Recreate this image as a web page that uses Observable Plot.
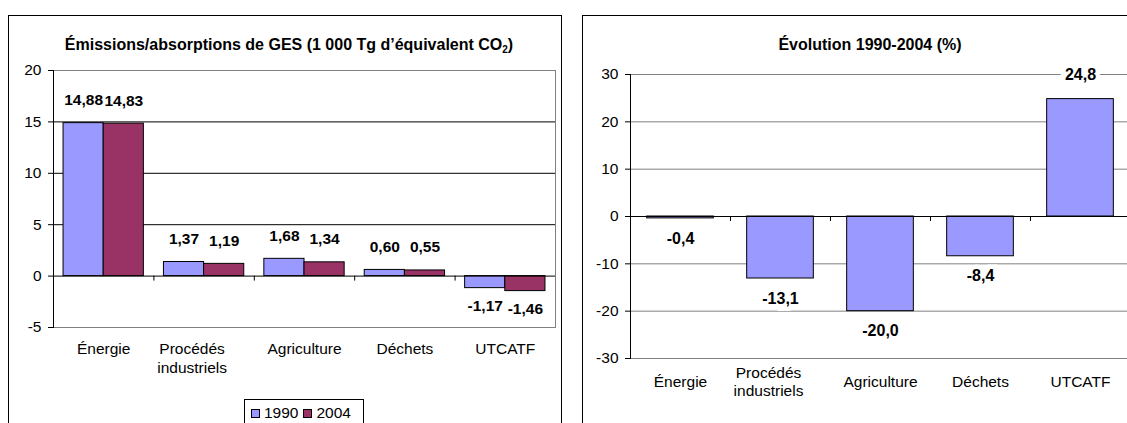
<!DOCTYPE html>
<html lang="fr">
<head>
<meta charset="utf-8">
<script src="https://cdn.jsdelivr.net/npm/d3@7"></script>
<script src="https://cdn.jsdelivr.net/npm/@observablehq/plot@0.6"></script>
<style>
  html, body { margin: 0; padding: 0; background: #fff; }
  body {
    width: 1127px; height: 423px; position: relative; overflow: hidden;
    font-family: "Liberation Sans", Arial, sans-serif; color: #000;
  }
  .panel { position: absolute; border: 1px solid #000; box-sizing: border-box; }
  .title {
    position: absolute; font-weight: bold; font-size: 16px; line-height: 20px;
    white-space: nowrap; transform: translateX(-50%);
  }
  .title sub { font-size: 10px; line-height: 0; vertical-align: -3px; }
  .chart { position: absolute; top: 0; width: 570px; height: 423px; }
  .chart svg { max-width: none !important; }
  .legend {
    position: absolute; left: 244px; top: 399px; width: 120px; height: 40px;
    border: 1px solid #000; box-sizing: border-box;
    display: flex; align-items: flex-start; padding: 4px 0 0 6px; gap: 5px;
    font-size: 15.5px; line-height: 18px;
  }
  .legend .item { display: flex; align-items: center; gap: 4px; }
  .legend .swatch { width: 9px; height: 9px; border: 1px solid #000; box-sizing: border-box; }
</style>
</head>
<body>
<div class="panel" style="left:8px; top:15px; width:554px; height:440px"></div>
<div class="panel" style="left:582px; top:15px; width:600px; height:440px"></div>
<div class="title" style="left:289px; top:35px">Émissions/absorptions de GES (1 000 Tg d’équivalent CO<sub>2</sub>)</div>
<div class="title" style="left:870px; top:35px">Évolution 1990-2004 (%)</div>
<div id="left" class="chart" style="left:0"></div>
<div id="right" class="chart" style="left:570px"></div>
<div id="legend" class="legend"></div>
<script>
// GHG emissions / removals by sector, thousands of Tg CO2 equivalent
const categories = ["Énergie", "Procédés industriels", "Agriculture", "Déchets", "UTCATF"];
const years = ["1990", "2004"];
const emissions1990 = [14.88, 1.37, 1.68, 0.60, -1.17];
const emissions2004 = [14.83, 1.19, 1.34, 0.55, -1.46];
// Change 1990-2004, percent
const evolution = [-0.4, -13.1, -20.0, -8.4, 24.8];
const emissionTicks = [-5, 0, 5, 10, 15, 20];
const evolutionTicks = [-30, -20, -10, 0, 10, 20, 30];
const seriesColors = ["#9999FF", "#993366"];

const FONT = '"Liberation Sans", Arial, sans-serif';
const HEIGHT = 423;
const frNum = (v, digits) => v.toFixed(digits).replace(".", ",");
const twoLines = (d) => d.replace(" ", "\n");
const isWrapped = (d) => d.includes(" ");

// Category names under the frame; wrapped names sit slightly left, as in the spreadsheet layout
function categoryLabels(lineAnchor, dy) {
  const base = {x: (d) => d, frameAnchor: "bottom", dy, lineAnchor, text: twoLines, fontSize: 15.5, lineHeight: 1.17};
  return [
    Plot.text(categories.filter((d) => !isWrapped(d)), base),
    Plot.text(categories.filter(isWrapped), {...base, dx: -12})
  ];
}

// ---------- left chart: grouped bars ----------
{
  const width = 570;
  const m = {top: 70, right: 15, bottom: 96, left: 53};
  const xOpts = {type: "band", domain: categories, paddingInner: 0.2, paddingOuter: 0.1, round: false};
  const xs = Plot.scale({x: {...xOpts, range: [m.left, width - m.right]}});
  const half = xs.bandwidth / 2;
  const rows = years.map((year, k) =>
    categories.map((category, i) => ({category, year, value: (k === 0 ? emissions1990 : emissions2004)[i]}))
  );
  const labelMarks = rows.flatMap((series, k) => {
    const dx = (k === 0 ? -1 : 1) * xs.bandwidth / 4;
    const common = {x: "category", y: "value", dx, text: (d) => frNum(d.value, 2), fontWeight: "bold", fontSize: 15.5};
    return [
      Plot.text(series.filter((d) => d.value >= 0), {...common, dy: -23}),
      Plot.text(series.filter((d) => d.value < 0), {...common, dy: 18})
    ];
  });

  const chart = Plot.plot({
    width, height: HEIGHT,
    marginTop: m.top, marginRight: m.right, marginBottom: m.bottom, marginLeft: m.left,
    x: {...xOpts, axis: null},
    y: {domain: [-5, 20], axis: null},
    style: {fontFamily: FONT, fontSize: "15.5px", color: "#000", background: "transparent", overflow: "visible", maxWidth: "none"},
    marks: [
      Plot.frame({stroke: "#808080"}),
      Plot.ruleY([5, 10, 15], {stroke: "#000"}),
      Plot.barY(rows[0], {x: "category", y: "value", fill: seriesColors[0], stroke: "#000", insetRight: half}),
      Plot.barY(rows[1], {x: "category", y: "value", fill: seriesColors[1], stroke: "#000", insetLeft: half}),
      Plot.ruleY([0], {stroke: "#000"}),
      Plot.ruleX(categories.slice(1), {dx: -xs.step / 2, y1: 0, y2: 0, insetBottom: -5, stroke: "#000"}),
      Plot.frame({anchor: "left", stroke: "#000"}),
      Plot.axisY({ticks: emissionTicks, label: null, tickSize: 5, tickPadding: 7, tickFormat: (d) => String(d), stroke: "#000"}),
      ...labelMarks,
      ...categoryLabels("top", 14)
    ]
  });
  document.getElementById("left").append(chart);
}

// ---------- right chart: change in percent ----------
{
  const width = 570;
  const m = {top: 74, right: 10, bottom: 65, left: 60};
  const xOpts = {type: "band", domain: categories, paddingInner: 1 / 3, paddingOuter: 1 / 6, round: false};
  const xs = Plot.scale({x: {...xOpts, range: [m.left, width - m.right]}});
  const rows = categories.map((category, i) => ({category, value: evolution[i]}));
  const common = {
    x: "category", y: "value", text: (d) => frNum(d.value, 1), fontWeight: "bold", fontSize: 16,
    stroke: "#fff", strokeWidth: 9, strokeLinejoin: "miter", paintOrder: "stroke", fill: "#000"
  };

  const chart = Plot.plot({
    width, height: HEIGHT,
    marginTop: m.top, marginRight: m.right, marginBottom: m.bottom, marginLeft: m.left,
    x: {...xOpts, axis: null},
    y: {domain: [-30, 30], axis: null},
    style: {fontFamily: FONT, fontSize: "15.5px", color: "#000", background: "transparent", overflow: "visible", maxWidth: "none"},
    marks: [
      Plot.ruleY(evolutionTicks.filter((t) => t !== 0), {stroke: "#808080"}),
      Plot.barY(rows, {x: "category", y: "value", fill: seriesColors[0], stroke: "#000"}),
      Plot.ruleY([0], {stroke: "#000"}),
      Plot.ruleX(categories.slice(1), {dx: -xs.step / 2, y1: 0, y2: 0, insetBottom: -5, stroke: "#000"}),
      Plot.frame({anchor: "left", stroke: "#000"}),
      Plot.axisY({ticks: evolutionTicks, label: null, tickSize: 5, tickPadding: 7, tickFormat: (d) => String(d), stroke: "#000"}),
      Plot.text(rows.filter((d) => d.value >= 0), {...common, dy: -24}),
      Plot.text(rows.filter((d) => d.value < 0), {...common, dy: 20}),
      ...categoryLabels("middle", 23)
    ]
  });
  document.getElementById("right").append(chart);
}

// ---------- legend ----------
{
  const legend = document.getElementById("legend");
  years.forEach((year, k) => {
    const item = document.createElement("span");
    item.className = "item";
    const sw = document.createElement("span");
    sw.className = "swatch";
    sw.style.background = seriesColors[k];
    const label = document.createElement("span");
    label.textContent = year;
    item.append(sw, label);
    legend.append(item);
  });
}
</script>
</body>
</html>
